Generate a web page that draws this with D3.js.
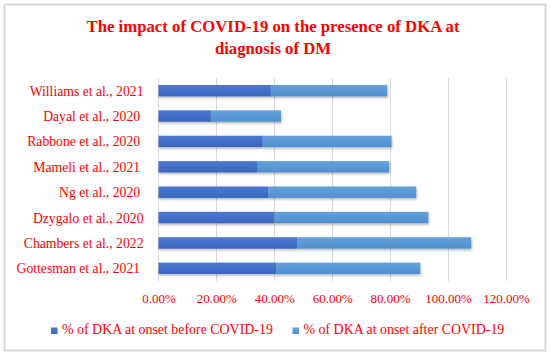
<!DOCTYPE html>
<html><head><meta charset="utf-8">
<script src="https://cdn.jsdelivr.net/npm/d3@7"></script>
<style>body{margin:0;background:#fff}svg{display:block}</style>
</head><body>
<svg id="c" width="550" height="357"></svg>
<script>
const categories = ["Williams et al., 2021","Dayal et al., 2020 ","Rabbone et al., 2020 ","Mameli et al., 2021 ","Ng et al., 2020 ","Dzygalo et al., 2020","Chambers et al., 2022","Gottesman et al., 2021 "];
const before = [38.8, 18.1, 36.0, 34.2, 37.9, 40.0, 47.9, 40.6];
const after  = [40.2, 24.2, 44.5, 45.5, 51.1, 53.2, 60.1, 49.8];
const seriesNames = ["% of DKA at onset before COVID-19","% of DKA at onset after COVID-19"];
const tickValues = [0,20,40,60,80,100,120];
const titleLines = ["The impact of COVID-19 on the presence of DKA at","diagnosis of DM"];

const svg=d3.select("#c");
const serif="Liberation Serif";
const red="#ff0000";

// scale font size of a text selection so a reference node matches a target width
function fit(sel, refNode, s, target){
  sel.attr("font-size", s);
  const w=refNode.getComputedTextLength();
  sel.attr("font-size", (s*target/w).toFixed(2));
}

const defs=svg.append("defs");
const g1=defs.append("linearGradient").attr("id","g1").attr("x1",0).attr("y1",0).attr("x2",0).attr("y2",1);
g1.append("stop").attr("offset","0").attr("stop-color","#4a78d0");
g1.append("stop").attr("offset","1").attr("stop-color","#3c66bd");
const g2=defs.append("linearGradient").attr("id","g2").attr("x1",0).attr("y1",0).attr("x2",0).attr("y2",1);
g2.append("stop").attr("offset","0").attr("stop-color","#63a2dc");
g2.append("stop").attr("offset","1").attr("stop-color","#5090cf");
const f=defs.append("filter").attr("id","sh").attr("x","-5%").attr("y","-30%").attr("width","110%").attr("height","180%");
f.append("feDropShadow").attr("dx",0.5).attr("dy",1.5).attr("stdDeviation",1).attr("flood-color","#000").attr("flood-opacity",0.3);

svg.append("rect").attr("x",4.5).attr("y",4.5).attr("width",541).attr("height",346)
  .attr("fill","#fff").attr("stroke","#d9d9d9").attr("stroke-width",2);

const x=d3.scaleLinear().domain([0,120]).range([158.5,506]);
const y=d3.scaleBand().domain(categories).range([78,281]).paddingInner(0.55).paddingOuter(0.275);

svg.append("g").selectAll("line").data(tickValues).join("line")
  .attr("x1",d=>x(d)).attr("x2",d=>x(d)).attr("y1",78).attr("y2",281)
  .attr("stroke","#d9d9d9").attr("stroke-width",1).attr("shape-rendering","crispEdges");

const data=categories.map((c,i)=>({c,b:before[i],a:after[i]}));
const bars=svg.append("g").attr("filter","url(#sh)");
bars.selectAll("rect.a").data(data).join("rect").attr("class","a")
  .attr("x",d=>x(d.b)).attr("y",d=>y(d.c)).attr("width",d=>x(d.b+d.a)-x(d.b)).attr("height",y.bandwidth())
  .attr("fill","url(#g2)");
bars.selectAll("rect.b").data(data).join("rect").attr("class","b")
  .attr("x",x(0)).attr("y",d=>y(d.c)).attr("width",d=>x(d.b)-x(0)).attr("height",y.bandwidth())
  .attr("fill","url(#g1)");

const ya=svg.append("g").attr("transform","translate(143.5,0)")
  .call(d3.axisLeft(y).tickSize(0).tickPadding(0));
ya.select(".domain").remove();
const yt=ya.selectAll("text").attr("font-family",serif).attr("fill",red)
  .style("white-space","pre").attr("dy","0.36em");
fit(yt, yt.nodes()[0], 14, 114);

const xa=svg.append("g").attr("transform","translate(0,281)")
  .call(d3.axisBottom(x).tickValues(tickValues).tickSize(0).tickPadding(0).tickFormat(d=>d.toFixed(2)+"%"));
xa.select(".domain").remove();
const xt=xa.selectAll("text").attr("font-family",serif).attr("fill",red).attr("y",22).attr("dy",0);
fit(xt, xt.nodes()[6], 13, 46.6);

const t=svg.append("text").attr("text-anchor","middle").attr("font-family",serif)
  .attr("font-weight","bold").attr("fill",red);
const ts=t.selectAll("tspan").data(titleLines).join("tspan").attr("x",273).attr("y",(d,i)=>32+i*22).text(d=>d);
fit(t, ts.nodes()[0], 17, 373);

const leg=[{x:51,n:seriesNames[0],f:"url(#g1)"},{x:292.5,n:seriesNames[1],f:"url(#g2)"}];
const lg=svg.append("g");
lg.selectAll("rect").data(leg).join("rect").attr("x",d=>d.x).attr("y",327.5).attr("width",6.5).attr("height",6.5).attr("fill",d=>d.f);
const lt=lg.selectAll("text").data(leg).join("text").attr("x",d=>d.x+11).attr("y",334)
  .attr("font-family",serif).attr("fill",red).text(d=>d.n);
fit(lt, lt.nodes()[0], 14, 211);
</script>
</body></html>
